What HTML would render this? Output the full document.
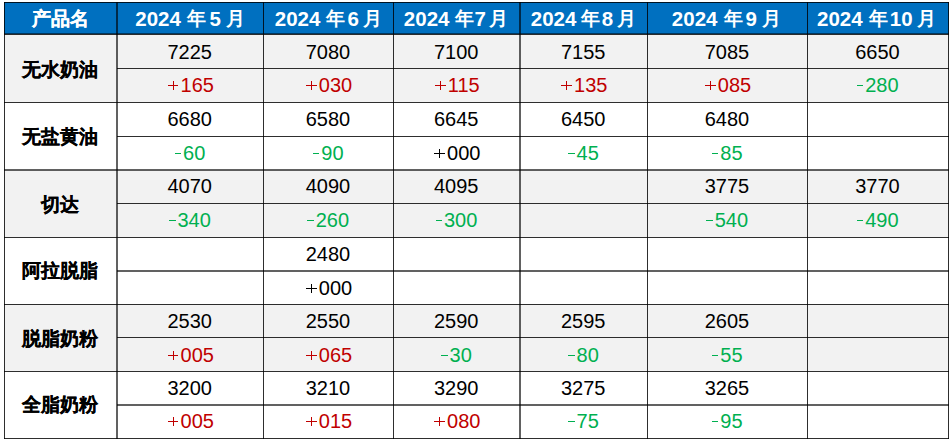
<!DOCTYPE html>
<html><head><meta charset="utf-8"><style>
html,body{margin:0;padding:0;background:#fff;}
body{width:952px;height:441px;position:relative;overflow:hidden;font-family:"Liberation Sans",sans-serif;}
.r{position:absolute;}
.t{position:absolute;text-align:center;white-space:nowrap;color:#000;}
.h{color:#fff;font-weight:bold;font-size:19px;-webkit-text-stroke:0.2px #fff;}
.n{font-weight:bold;font-size:19px;-webkit-text-stroke:0.2px #000;}
.d{font-size:20px;}
.hp{position:absolute;white-space:nowrap;color:#fff;font-weight:bold;}
.dg{font-size:20.5px;}
.cj{font-size:19px;}
.mi{display:inline-block;width:6.5px;height:1px;background:currentColor;margin:0 1.8px 0 0.5px;vertical-align:6px;}
.pl{display:inline-block;position:relative;width:10.5px;height:9px;margin:0 2.3px 0 2.2px;vertical-align:2px;}
.pl::before{content:"";position:absolute;left:0;top:4px;width:10.5px;height:1px;background:currentColor;}
.pl::after{content:"";position:absolute;left:4.75px;top:0;width:1px;height:9px;background:currentColor;}
.red{color:#c00000;}
.grn{color:#00b050;}
</style></head><body>
<div class="r" style="left:4px;top:2px;width:945px;height:32px;background:#0070c0;"></div>
<div class="r" style="left:4px;top:33px;width:945px;height:1px;background:rgba(0,0,0,.5);"></div>
<div class="r" style="left:4px;top:34px;width:945px;height:68px;background:#f2f2f2;"></div>
<div class="r" style="left:4px;top:169.5px;width:945px;height:67.5px;background:#f2f2f2;"></div>
<div class="r" style="left:4px;top:304px;width:945px;height:67px;background:#f2f2f2;"></div>
<div class="t h" style="left:4px;top:3px;width:112.5px;height:32px;line-height:32px">产品名</div>
<div class="hp dg" style="left:135.26px;top:3px;height:32px;line-height:32px">2024</div>
<div class="hp cj" style="left:187.43px;top:3px;height:32px;line-height:32px">年</div>
<div class="hp dg" style="left:209.39px;top:3px;height:32px;line-height:32px">5</div>
<div class="hp cj" style="left:225.89px;top:3px;height:32px;line-height:32px">月</div>
<div class="hp dg" style="left:274.76px;top:3px;height:32px;line-height:32px">2024</div>
<div class="hp cj" style="left:326.03px;top:3px;height:32px;line-height:32px">年</div>
<div class="hp dg" style="left:347.39px;top:3px;height:32px;line-height:32px">6</div>
<div class="hp cj" style="left:362.59px;top:3px;height:32px;line-height:32px">月</div>
<div class="hp dg" style="left:403.86px;top:3px;height:32px;line-height:32px">2024</div>
<div class="hp cj" style="left:454.73px;top:3px;height:32px;line-height:32px">年</div>
<div class="hp dg" style="left:474.39px;top:3px;height:32px;line-height:32px">7</div>
<div class="hp cj" style="left:489.49px;top:3px;height:32px;line-height:32px">月</div>
<div class="hp dg" style="left:530.76px;top:3px;height:32px;line-height:32px">2024</div>
<div class="hp cj" style="left:580.73px;top:3px;height:32px;line-height:32px">年</div>
<div class="hp dg" style="left:601.79px;top:3px;height:32px;line-height:32px">8</div>
<div class="hp cj" style="left:616.79px;top:3px;height:32px;line-height:32px">月</div>
<div class="hp dg" style="left:671.86px;top:3px;height:32px;line-height:32px">2024</div>
<div class="hp cj" style="left:724.03px;top:3px;height:32px;line-height:32px">年</div>
<div class="hp dg" style="left:745.39px;top:3px;height:32px;line-height:32px">9</div>
<div class="hp cj" style="left:762.49px;top:3px;height:32px;line-height:32px">月</div>
<div class="hp dg" style="left:817.06px;top:3px;height:32px;line-height:32px">2024</div>
<div class="hp cj" style="left:869.43px;top:3px;height:32px;line-height:32px">年</div>
<div class="hp dg" style="left:889.79px;top:3px;height:32px;line-height:32px">10</div>
<div class="hp cj" style="left:917.29px;top:3px;height:32px;line-height:32px">月</div>
<div class="t n" style="left:4px;top:36px;width:112.5px;height:68px;line-height:68px">无水奶油</div>
<div class="t d" style="left:116.5px;top:35px;width:146.5px;height:34px;line-height:34px">7225</div>
<div class="t d red" style="left:116.5px;top:68px;width:146.5px;height:34px;line-height:34px"><span class="pl"></span>165</div>
<div class="t d" style="left:263px;top:35px;width:130px;height:34px;line-height:34px">7080</div>
<div class="t d red" style="left:263px;top:68px;width:130px;height:34px;line-height:34px"><span class="pl"></span>030</div>
<div class="t d" style="left:393px;top:35px;width:126.5px;height:34px;line-height:34px">7100</div>
<div class="t d red" style="left:393px;top:68px;width:126.5px;height:34px;line-height:34px"><span class="pl"></span>115</div>
<div class="t d" style="left:519.5px;top:35px;width:127.5px;height:34px;line-height:34px">7155</div>
<div class="t d red" style="left:519.5px;top:68px;width:127.5px;height:34px;line-height:34px"><span class="pl"></span>135</div>
<div class="t d" style="left:647px;top:35px;width:160px;height:34px;line-height:34px">7085</div>
<div class="t d red" style="left:647px;top:68px;width:160px;height:34px;line-height:34px"><span class="pl"></span>085</div>
<div class="t d" style="left:807px;top:35px;width:141px;height:34px;line-height:34px">6650</div>
<div class="t d grn" style="left:807px;top:68px;width:141px;height:34px;line-height:34px"><span class="mi"></span>280</div>
<div class="t n" style="left:4px;top:103px;width:112.5px;height:67.5px;line-height:67.5px">无盐黄油</div>
<div class="t d" style="left:116.5px;top:102px;width:146.5px;height:34px;line-height:34px">6680</div>
<div class="t d grn" style="left:116.5px;top:137px;width:146.5px;height:33.5px;line-height:33.5px"><span class="mi"></span>60</div>
<div class="t d" style="left:263px;top:102px;width:130px;height:34px;line-height:34px">6580</div>
<div class="t d grn" style="left:263px;top:137px;width:130px;height:33.5px;line-height:33.5px"><span class="mi"></span>90</div>
<div class="t d" style="left:393px;top:102px;width:126.5px;height:34px;line-height:34px">6645</div>
<div class="t d" style="left:393px;top:137px;width:126.5px;height:33.5px;line-height:33.5px"><span class="pl"></span>000</div>
<div class="t d" style="left:519.5px;top:102px;width:127.5px;height:34px;line-height:34px">6450</div>
<div class="t d grn" style="left:519.5px;top:137px;width:127.5px;height:33.5px;line-height:33.5px"><span class="mi"></span>45</div>
<div class="t d" style="left:647px;top:102px;width:160px;height:34px;line-height:34px">6480</div>
<div class="t d grn" style="left:647px;top:137px;width:160px;height:33.5px;line-height:33.5px"><span class="mi"></span>85</div>
<div class="t n" style="left:4px;top:170.5px;width:112.5px;height:67.5px;line-height:67.5px">切达</div>
<div class="t d" style="left:116.5px;top:169.5px;width:146.5px;height:33.5px;line-height:33.5px">4070</div>
<div class="t d grn" style="left:116.5px;top:203px;width:146.5px;height:34px;line-height:34px"><span class="mi"></span>340</div>
<div class="t d" style="left:263px;top:169.5px;width:130px;height:33.5px;line-height:33.5px">4090</div>
<div class="t d grn" style="left:263px;top:203px;width:130px;height:34px;line-height:34px"><span class="mi"></span>260</div>
<div class="t d" style="left:393px;top:169.5px;width:126.5px;height:33.5px;line-height:33.5px">4095</div>
<div class="t d grn" style="left:393px;top:203px;width:126.5px;height:34px;line-height:34px"><span class="mi"></span>300</div>
<div class="t d" style="left:647px;top:169.5px;width:160px;height:33.5px;line-height:33.5px">3775</div>
<div class="t d grn" style="left:647px;top:203px;width:160px;height:34px;line-height:34px"><span class="mi"></span>540</div>
<div class="t d" style="left:807px;top:169.5px;width:141px;height:33.5px;line-height:33.5px">3770</div>
<div class="t d grn" style="left:807px;top:203px;width:141px;height:34px;line-height:34px"><span class="mi"></span>490</div>
<div class="t n" style="left:4px;top:237px;width:112.5px;height:67px;line-height:67px">阿拉脱脂</div>
<div class="t d" style="left:263px;top:238px;width:130px;height:33.5px;line-height:33.5px">2480</div>
<div class="t d" style="left:263px;top:271.5px;width:130px;height:33.5px;line-height:33.5px"><span class="pl"></span>000</div>
<div class="t n" style="left:4px;top:305px;width:112.5px;height:67px;line-height:67px">脱脂奶粉</div>
<div class="t d" style="left:116.5px;top:305px;width:146.5px;height:33px;line-height:33px">2530</div>
<div class="t d red" style="left:116.5px;top:338px;width:146.5px;height:34px;line-height:34px"><span class="pl"></span>005</div>
<div class="t d" style="left:263px;top:305px;width:130px;height:33px;line-height:33px">2550</div>
<div class="t d red" style="left:263px;top:338px;width:130px;height:34px;line-height:34px"><span class="pl"></span>065</div>
<div class="t d" style="left:393px;top:305px;width:126.5px;height:33px;line-height:33px">2590</div>
<div class="t d grn" style="left:393px;top:338px;width:126.5px;height:34px;line-height:34px"><span class="mi"></span>30</div>
<div class="t d" style="left:519.5px;top:305px;width:127.5px;height:33px;line-height:33px">2595</div>
<div class="t d grn" style="left:519.5px;top:338px;width:127.5px;height:34px;line-height:34px"><span class="mi"></span>80</div>
<div class="t d" style="left:647px;top:305px;width:160px;height:33px;line-height:33px">2605</div>
<div class="t d grn" style="left:647px;top:338px;width:160px;height:34px;line-height:34px"><span class="mi"></span>55</div>
<div class="t n" style="left:4px;top:371px;width:112.5px;height:67px;line-height:67px">全脂奶粉</div>
<div class="t d" style="left:116.5px;top:372px;width:146.5px;height:33.5px;line-height:33.5px">3200</div>
<div class="t d red" style="left:116.5px;top:404.5px;width:146.5px;height:33.5px;line-height:33.5px"><span class="pl"></span>005</div>
<div class="t d" style="left:263px;top:372px;width:130px;height:33.5px;line-height:33.5px">3210</div>
<div class="t d red" style="left:263px;top:404.5px;width:130px;height:33.5px;line-height:33.5px"><span class="pl"></span>015</div>
<div class="t d" style="left:393px;top:372px;width:126.5px;height:33.5px;line-height:33.5px">3290</div>
<div class="t d red" style="left:393px;top:404.5px;width:126.5px;height:33.5px;line-height:33.5px"><span class="pl"></span>080</div>
<div class="t d" style="left:519.5px;top:372px;width:127.5px;height:33.5px;line-height:33.5px">3275</div>
<div class="t d grn" style="left:519.5px;top:404.5px;width:127.5px;height:33.5px;line-height:33.5px"><span class="mi"></span>75</div>
<div class="t d" style="left:647px;top:372px;width:160px;height:33.5px;line-height:33.5px">3265</div>
<div class="t d grn" style="left:647px;top:404.5px;width:160px;height:33.5px;line-height:33.5px"><span class="mi"></span>95</div>
<div class="r" style="left:4px;top:2px;width:945px;height:1px;background:rgba(0,0,0,.82);"></div>
<div class="r" style="left:4px;top:34px;width:945px;height:1px;background:rgba(0,0,0,.82);"></div>
<div class="r" style="left:117px;top:68px;width:832px;height:1px;background:rgba(0,0,0,.82);"></div>
<div class="r" style="left:4px;top:102px;width:945px;height:1px;background:rgba(0,0,0,.82);"></div>
<div class="r" style="left:117px;top:136px;width:832px;height:1px;background:rgba(0,0,0,.82);"></div>
<div class="r" style="left:4px;top:169px;width:945px;height:1px;background:rgba(0,0,0,.62);"></div>
<div class="r" style="left:4px;top:170px;width:945px;height:1px;background:rgba(0,0,0,.62);"></div>
<div class="r" style="left:117px;top:203px;width:832px;height:1px;background:rgba(0,0,0,.82);"></div>
<div class="r" style="left:4px;top:237px;width:945px;height:1px;background:rgba(0,0,0,.82);"></div>
<div class="r" style="left:117px;top:270px;width:832px;height:1px;background:rgba(0,0,0,.62);"></div>
<div class="r" style="left:117px;top:271px;width:832px;height:1px;background:rgba(0,0,0,.62);"></div>
<div class="r" style="left:4px;top:304px;width:945px;height:1px;background:rgba(0,0,0,.82);"></div>
<div class="r" style="left:117px;top:337px;width:832px;height:1px;background:rgba(0,0,0,.82);"></div>
<div class="r" style="left:4px;top:371px;width:945px;height:1px;background:rgba(0,0,0,.82);"></div>
<div class="r" style="left:117px;top:404px;width:832px;height:1px;background:rgba(0,0,0,.62);"></div>
<div class="r" style="left:117px;top:405px;width:832px;height:1px;background:rgba(0,0,0,.62);"></div>
<div class="r" style="left:4px;top:438px;width:945px;height:1px;background:rgba(0,0,0,.82);"></div>
<div class="r" style="left:4px;top:2px;width:1px;height:437px;background:rgba(0,0,0,.82);"></div>
<div class="r" style="left:116px;top:2px;width:1px;height:437px;background:rgba(0,0,0,.62);"></div>
<div class="r" style="left:117px;top:2px;width:1px;height:437px;background:rgba(0,0,0,.62);"></div>
<div class="r" style="left:263px;top:2px;width:1px;height:437px;background:rgba(0,0,0,.82);"></div>
<div class="r" style="left:393px;top:2px;width:1px;height:437px;background:rgba(0,0,0,.82);"></div>
<div class="r" style="left:519px;top:2px;width:1px;height:437px;background:rgba(0,0,0,.62);"></div>
<div class="r" style="left:520px;top:2px;width:1px;height:437px;background:rgba(0,0,0,.62);"></div>
<div class="r" style="left:647px;top:2px;width:1px;height:437px;background:rgba(0,0,0,.82);"></div>
<div class="r" style="left:807px;top:2px;width:1px;height:437px;background:rgba(0,0,0,.82);"></div>
<div class="r" style="left:948px;top:2px;width:1px;height:437px;background:rgba(0,0,0,.82);"></div>
</body></html>
